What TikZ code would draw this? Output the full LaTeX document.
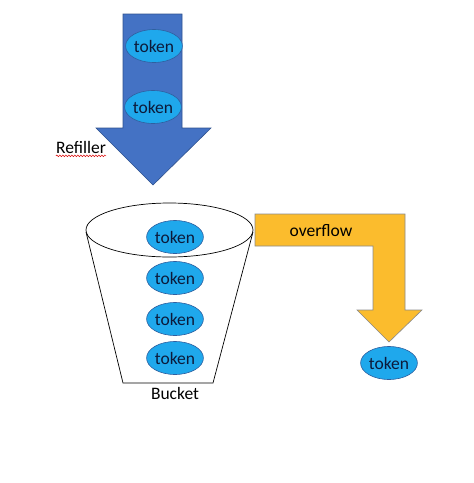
\documentclass[tikz,border=0pt]{standalone}
\usepackage{fontspec}
\setmainfont{Carlito}
\usetikzlibrary{decorations.pathmorphing,shapes.geometric}
\definecolor{arrowblue}{HTML}{4472C4}
\definecolor{arrowblueedge}{HTML}{2F528F}
\definecolor{tokenfill}{HTML}{1FA8EC}
\definecolor{tokenedge}{HTML}{2F5F9F}
\definecolor{tokentext}{HTML}{0C1A3A}
\definecolor{flowfill}{HTML}{FBBC2D}
\definecolor{flowedge}{HTML}{8A8A8A}
\tikzset{
  tokenball/.style={ellipse, draw=tokenedge, fill=tokenfill, line width=0.6pt, text=tokentext,
    minimum width=48pt, minimum height=33pt, inner sep=0pt, font=\fontsize{17.5}{19}\selectfont},
  lbl/.style={inner sep=0pt, font=\fontsize{17.5}{19}\selectfont},
}
\begin{document}
\begin{tikzpicture}[x=1pt,y=-1pt]
\useasboundingbox (0,0) rectangle (474,483);
% refiller arrow
\draw[fill=arrowblue, draw=arrowblueedge, line width=0.6pt]
  (123,14) -- (182,14) -- (182,128) -- (211,128) -- (153,185) -- (96,128) -- (123,128) -- cycle;
\node[tokenball] (t1) at (154,46) {token};
\node[tokenball] (t2) at (153,107) {token};
\node[lbl] (refiller) at (81,147) {Refiller};
\draw[red!85!black, line width=0.5pt, decorate, decoration={snake, amplitude=0.8pt, segment length=3pt}]
  ([yshift=-2.5pt]refiller.south west) -- ([yshift=-2.5pt]refiller.south east);
% overflow arrow
\draw[fill=flowfill, draw=flowedge, line width=0.6pt]
  (255,214) -- (405,214) -- (405,310) -- (422,310) -- (389,342) -- (357,310) -- (373,310) -- (373,246) -- (255,246) -- cycle;
\node[lbl] (overflow) at (321,231) {overflow};
\node[tokenball] (t7) at (389,363) {token};
% bucket
\draw[line width=0.7pt] (86,232) -- (123,383) -- (213,383) -- (253,232);
\draw[line width=0.7pt] (169.5,230) ellipse [x radius=83.5, y radius=27];
\node[tokenball] (t3) at (175,237) {token};
\node[tokenball] (t4) at (175,278) {token};
\node[tokenball] (t5) at (175,319) {token};
\node[tokenball] (t6) at (175,358) {token};
\node[lbl] (bucket) at (175,393) {Bucket};
\end{tikzpicture}
\end{document}
